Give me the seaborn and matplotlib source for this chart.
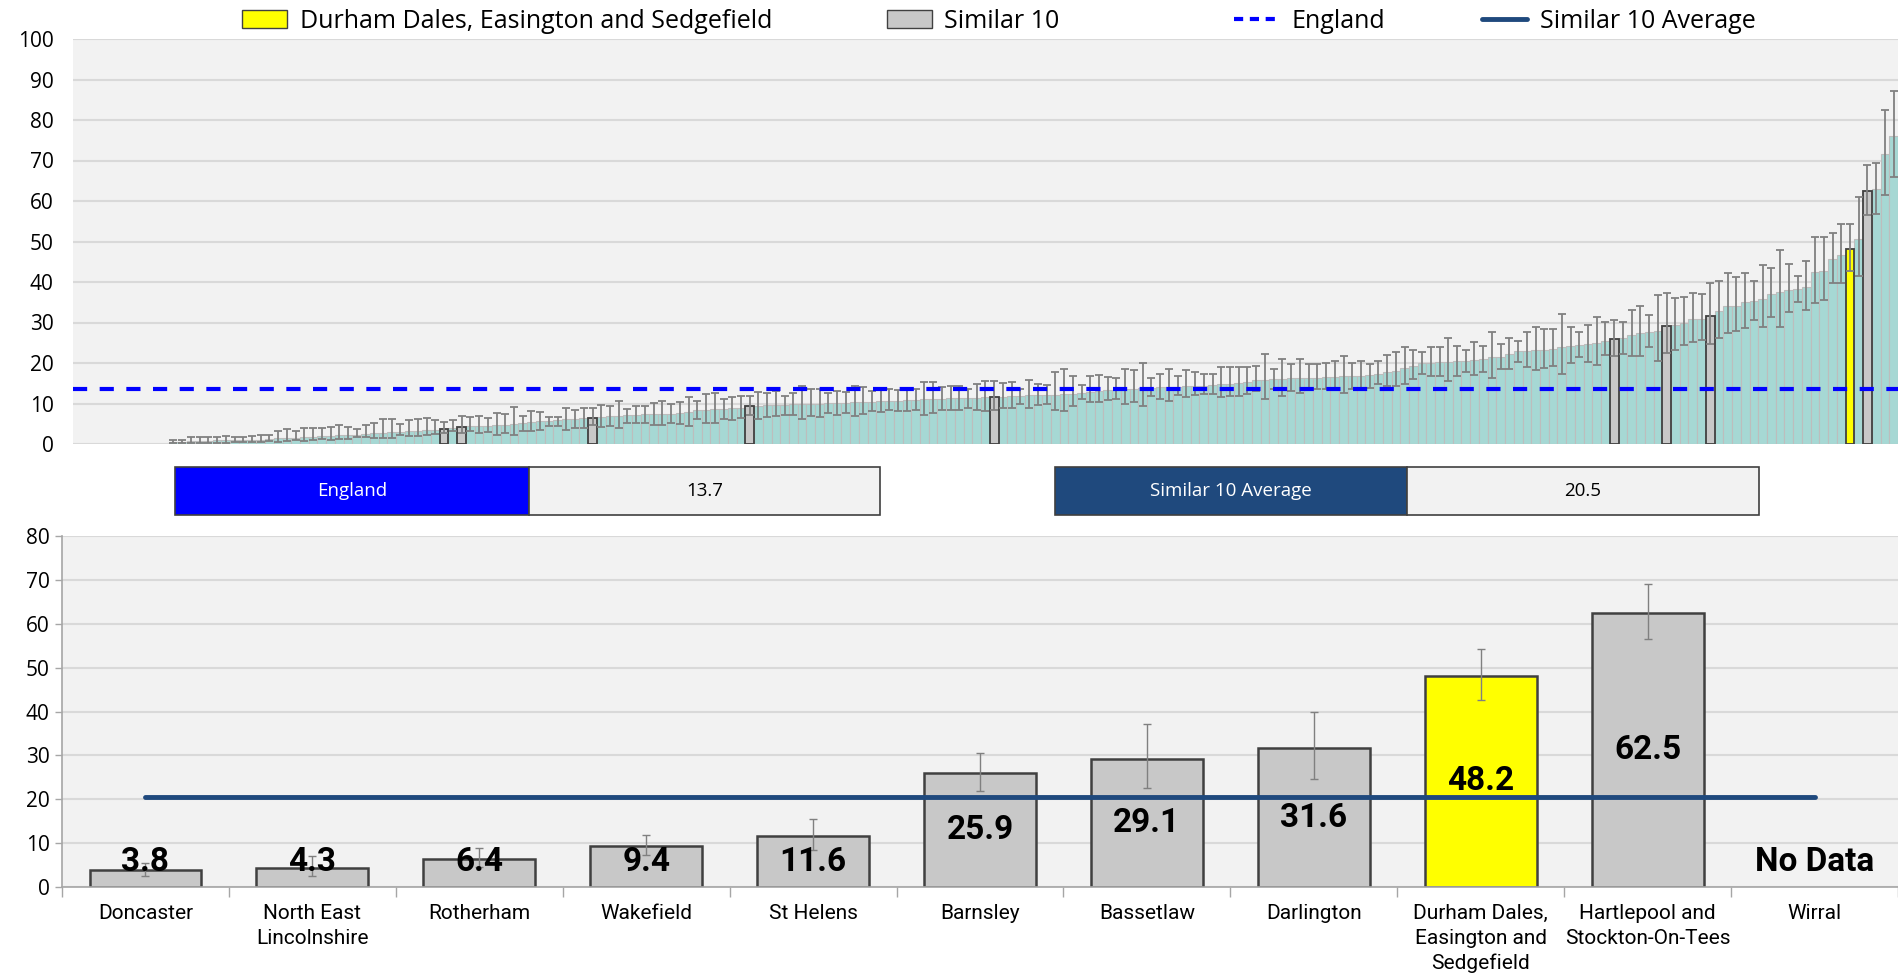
import numpy as np
import pandas as pd
import seaborn as sns
import matplotlib.pyplot as plt
from matplotlib.patches import Patch, Rectangle
from matplotlib.lines import Line2D

# national CCG rates, sorted (CCGs with no data come first)
no_data_ccgs = 11
ccg_rates = [
    0.5, 0.6, 0.7, 0.8, 0.8, 0.9, 0.9, 1.0, 1.0, 1.1, 1.1, 1.2,
    1.4, 1.5, 1.6, 1.7, 1.8, 1.9, 2.0, 2.1, 2.2, 2.3, 2.5, 2.6, 2.8, 2.9, 3.0, 3.1, 3.2, 3.4, 3.5,
    3.8, 4.0, 4.3, 4.4, 4.4, 4.5, 4.6, 4.7, 5.0, 5.2, 5.4, 5.6, 5.8, 6.0, 6.1, 6.2, 6.3, 6.4,
    6.6, 6.8, 7.0, 7.1, 7.2, 7.3, 7.3, 7.4, 7.5, 7.6, 8.0, 8.3, 8.5, 8.6, 8.7, 8.8, 9.0, 9.4,
    9.5, 9.6, 9.7,
    9.7, 9.8, 9.8, 9.9, 10.0, 10.1, 10.2, 10.2, 10.3, 10.4, 10.4, 10.5, 10.6, 10.7, 10.8, 10.9,
    11.0, 11.1, 11.2, 11.3, 11.3, 11.4, 11.4, 11.5, 11.6, 11.7, 11.8, 11.9, 12.0, 12.0, 12.1,
    12.2, 12.3, 12.4, 12.6,
    12.9, 13.1, 13.3, 13.4, 13.5, 13.6, 13.8, 13.9, 14.0, 14.0, 14.1, 14.2, 14.3, 14.4, 14.5,
    14.8, 14.9, 15.0, 15.2, 15.7, 15.8, 16.0, 16.1, 16.2, 16.3, 16.4, 16.4, 16.5, 16.6, 16.7,
    16.8, 16.9, 17.0, 17.3, 17.8, 18.1,
    18.7, 19.3, 19.9, 20.1, 20.2, 20.3, 20.4, 20.6, 20.8, 21.0, 21.4, 21.6, 22.1, 22.9, 23.0,
    23.1, 23.2, 23.5, 23.9, 24.2, 24.5, 24.7, 25.0, 25.5, 25.9, 26.1, 26.9, 27.3, 27.7, 27.9,
    29.1, 29.4, 30.0, 30.8, 30.9, 31.6, 32.8, 34.0, 34.1, 35.1, 35.3, 35.9, 37.1, 37.5, 38.1,
    38.2, 38.8, 42.5, 42.7, 45.6, 46.7, 48.2, 50.5, 62.5, 62.9, 71.5, 76.0,
]
ccg_lower = [
    0.2, 0.2, 0.2, 0.2, 0.2, 0.2, 0.3, 0.4, 0.4, 0.5, 0.5, 0.7,
    0.6, 0.7, 0.9, 0.8, 1.0, 1.2, 1.1, 1.2, 1.2, 1.7, 1.7, 1.6, 1.6, 1.6, 2.1, 2.0, 2.0, 2.1, 2.4,
    2.6, 3.2, 2.6, 3.1, 2.6, 3.0, 2.2, 2.6, 2.2, 3.2, 3.1, 3.4, 4.5, 4.5, 3.4, 3.9, 3.9, 4.6,
    4.2, 4.5, 4.0, 5.2, 5.2, 5.2, 4.8, 4.8, 5.2, 5.0, 4.5, 6.1, 5.2, 5.2, 6.1, 5.9, 6.3, 7.2,
    6.1, 6.7, 6.9,
    7.1, 7.1, 6.1, 6.8, 6.6, 7.7, 7.1, 7.6, 7.0, 7.4, 8.2, 8.0, 8.3, 8.2, 8.2, 8.4,
    7.2, 7.6, 8.5, 8.5, 8.5, 9.0, 8.3, 8.2, 8.4, 8.8, 8.8, 10.0, 8.8, 9.7, 9.8,
    8.3, 8.1, 9.4, 11.0,
    10.3, 10.3, 10.9, 11.1, 10.0, 10.3, 9.4, 11.9, 11.2, 10.6, 12.0, 11.5, 12.0, 12.4, 12.4,
    11.6, 11.8, 11.9, 12.3, 13.1, 11.1, 13.7, 11.9, 13.1, 12.6, 13.5, 13.5, 13.5, 13.3, 12.5,
    13.5, 13.6, 13.9, 14.8, 14.4, 14.4,
    14.8, 16.0, 17.3, 16.9, 16.9, 15.5, 16.9, 17.9, 17.1, 17.9, 16.3, 18.5, 18.5, 20.3, 18.9,
    18.3, 18.8, 19.3, 17.4, 19.9, 21.6, 20.3, 19.6, 22.0, 21.8, 22.2, 21.7, 21.7, 24.0, 20.6,
    22.5, 23.3, 24.4, 25.3, 25.7, 24.7, 26.1, 27.3, 27.9, 28.6, 30.6, 28.9, 31.4, 28.9, 32.6,
    35.1, 33.0, 34.7, 35.6, 39.7, 39.7, 42.7, 41.5, 56.5, 56.7, 61.5, 66.0,
]
ccg_upper = [
    0.9, 1.1, 1.7, 1.8, 1.8, 1.8, 2.0, 1.7, 1.7, 1.9, 2.1, 2.3,
    3.2, 3.6, 3.2, 3.9, 4.0, 4.0, 4.2, 4.6, 4.3, 3.6, 4.6, 5.1, 6.1, 6.1, 4.9, 6.0, 6.1, 6.3, 5.9,
    5.5, 5.9, 7.0, 6.7, 6.9, 6.5, 7.7, 7.3, 9.2, 7.0, 8.2, 8.0, 6.7, 6.7, 9.0, 8.4, 9.0, 8.8,
    9.7, 9.3, 10.7, 8.7, 9.5, 9.4, 10.2, 10.5, 9.8, 10.4, 11.7, 10.7, 12.3, 12.5, 11.1, 11.6, 11.8, 11.9,
    12.9, 12.5, 13.0,
    11.9, 12.7, 14.2, 13.7, 13.5, 12.5, 13.1, 12.9, 14.2, 14.1, 13.1, 13.3, 13.5, 13.4, 13.5, 13.7,
    15.2, 15.2, 14.1, 14.2, 14.2, 13.5, 14.8, 15.6, 15.6, 15.0, 15.4, 13.7, 15.9, 14.8, 14.5,
    17.7, 18.5, 16.8, 14.6,
    16.9, 17.1, 16.6, 16.4, 18.4, 18.2, 19.9, 16.3, 17.4, 18.5, 16.7, 18.3, 17.9, 17.3, 17.3,
    19.1, 19.0, 19.0, 19.0, 19.3, 22.1, 18.5, 21.0, 19.8, 20.9, 19.8, 19.8, 20.0, 20.6, 21.7,
    20.0, 20.5, 19.8, 20.5, 21.9, 22.7,
    23.9, 23.1, 22.6, 23.9, 23.9, 26.2, 24.3, 23.1, 25.1, 24.1, 27.6, 24.7, 26.1, 25.5, 27.6,
    29.0, 28.4, 28.4, 32.1, 29.0, 27.6, 29.4, 31.4, 30.1, 30.5, 30.1, 33.1, 34.0, 31.9, 36.9,
    37.2, 36.1, 36.3, 37.2, 37.0, 39.8, 40.3, 42.1, 41.2, 42.2, 40.3, 44.1, 43.5, 47.9, 44.4,
    41.6, 45.1, 51.1, 51.0, 52.2, 54.2, 54.3, 61.0, 69.0, 69.3, 82.5, 87.2,
]

# similar 10 CCGs
area_name = "Durham Dales, Easington and Sedgefield"
similar_names = ["Doncaster", "North East\nLincolnshire", "Rotherham", "Wakefield", "St Helens",
                 "Barnsley", "Bassetlaw", "Darlington", "Durham Dales,\nEasington and\nSedgefield",
                 "Hartlepool and\nStockton-On-Tees", "Wirral"]
similar_rates = [3.8, 4.3, 6.4, 9.4, 11.6, 25.9, 29.1, 31.6, 48.2, 62.5, np.nan]
similar_lower = [2.6, 2.6, 4.6, 7.2, 8.4, 21.8, 22.5, 24.7, 42.7, 56.5, np.nan]
similar_upper = [5.5, 7.0, 8.8, 11.9, 15.6, 30.5, 37.2, 39.8, 54.3, 69.0, np.nan]
england_value = 13.7
similar_avg = 20.5

teal = "#A6D8D4"
grey = "#C8C8C8"
yellow = "#FFFF00"
navy = "#1F497D"
blue = "#0000FF"
bg = "#F2F2F2"
grid_c = "#D9D9D9"

sns.set_theme(style="white")
plt.rcParams['font.family'] = ['Open Sans', 'DejaVu Sans']
plt.rcParams['text.color'] = 'black'
plt.rcParams['xtick.color'] = 'black'
plt.rcParams['ytick.color'] = 'black'
label_font = ['Roboto', 'DejaVu Sans']

fig = plt.figure(figsize=(18.98, 9.74), dpi=100)
W, H = 1898.0, 974.0

# ---------- top chart: all CCGs ----------
ax1 = fig.add_axes([73 / W, 1 - 444 / H, 1 - 73 / W, 405 / H])
n_slots = no_data_ccgs + len(ccg_rates)
slots = [str(i) for i in range(n_slots)]
rates_all = np.array([np.nan] * no_data_ccgs + ccg_rates)
top_df = pd.DataFrame({"slot": slots, "rate": rates_all})
sns.barplot(data=top_df, x="slot", y="rate", order=slots, color=teal, saturation=1,
            width=1.0, edgecolor="#BDBDBD", linewidth=0.8, errorbar=None, ax=ax1)

# highlight the similar CCGs at their national rank
hl_slots, hl_rates, hl_cols = [], [], []
for nm, v in zip(similar_names, similar_rates):
    if np.isnan(v):
        continue
    k = no_data_ccgs + int(np.argmin(np.abs(np.array(ccg_rates) - v)))
    hl_slots.append(str(k))
    hl_rates.append(v)
    hl_cols.append(yellow if nm.startswith("Durham") else grey)
hl_df = pd.DataFrame({"slot": hl_slots, "rate": hl_rates})
sns.barplot(data=hl_df, x="slot", y="rate", order=slots, hue="slot",
            palette=dict(zip(hl_slots, hl_cols)), saturation=1, legend=False,
            width=1.0, edgecolor="#404040", linewidth=1.3, errorbar=None, ax=ax1)

pos = np.arange(no_data_ccgs, n_slots)
r = np.array(ccg_rates)
ax1.errorbar(pos, r, yerr=[r - np.array(ccg_lower), np.array(ccg_upper) - r], fmt="none",
             ecolor="#808080", elinewidth=1.3, capsize=3, capthick=1.3, zorder=4)
ax1.axhline(england_value, color=blue, lw=3, ls=(0, (3.4, 3.0)), zorder=5)

ax1.set_facecolor(bg)
ax1.set_ylim(0, 100)
ax1.set_xlim(-0.5, n_slots - 0.5)
ax1.set_yticks(np.arange(0, 101, 10))
ax1.yaxis.grid(True, color=grid_c, lw=1.5)
ax1.set_axisbelow(True)
ax1.set_xticks([])
ax1.set_xlabel("")
ax1.set_ylabel("")
ax1.tick_params(axis="y", labelsize=15, length=0, pad=14)
for s in ax1.spines.values():
    s.set_visible(False)

# ---------- middle value boxes ----------
def value_box(x0, x1, x2, label, value, colour):
    y0, hgt = 1 - 515 / H, 48 / H
    fig.add_artist(Rectangle((x0 / W, y0), (x1 - x0) / W, hgt, transform=fig.transFigure,
                             facecolor=colour, edgecolor="#404040", lw=1.2))
    fig.add_artist(Rectangle((x1 / W, y0), (x2 - x1) / W, hgt, transform=fig.transFigure,
                             facecolor=bg, edgecolor="#404040", lw=1.2))
    fig.text((x0 + x1) / 2 / W, y0 + hgt / 2, label, color="white", fontsize=13.5,
             ha="center", va="center")
    fig.text((x1 + x2) / 2 / W, y0 + hgt / 2, value, color="black", fontsize=13.5,
             ha="center", va="center")

value_box(175, 529, 880, "England", f"{england_value}", blue)
value_box(1055, 1407, 1759, "Similar 10 Average", f"{similar_avg}", navy)

# ---------- bottom chart: similar 10 ----------
ax2 = fig.add_axes([62 / W, 1 - 887 / H, 1 - 62 / W, 351 / H])
bot_df = pd.DataFrame({"name": similar_names, "rate": similar_rates})
bar_cols = {nm: (yellow if nm.startswith("Durham") else grey) for nm in similar_names}
sns.barplot(data=bot_df, x="name", y="rate", order=similar_names, hue="name",
            palette=bar_cols, saturation=1, legend=False, width=0.67,
            edgecolor="#404040", linewidth=1.8, errorbar=None, ax=ax2)
sr = np.array(similar_rates)
ax2.errorbar(np.arange(len(sr)), sr, yerr=[sr - np.array(similar_lower), np.array(similar_upper) - sr],
             fmt="none", ecolor="#808080", elinewidth=1.0, capsize=3, capthick=1.0, zorder=4)
ax2.plot([0, len(similar_names) - 1], [similar_avg, similar_avg], color=navy, lw=3.5, zorder=5)
for i, v in enumerate(similar_rates):
    txt = "No Data" if np.isnan(v) else f"{v}"
    yy = 5.8 if np.isnan(v) else max(v / 2, 5.8)
    ax2.text(i, yy, txt, ha="center", va="center", fontsize=24, color="black",
             fontweight="bold", family=label_font, zorder=6)

ax2.set_facecolor(bg)
ax2.set_ylim(0, 80)
ax2.set_xlim(-0.5, len(similar_names) - 0.5)
ax2.set_yticks(np.arange(0, 81, 10))
ax2.yaxis.grid(True, color=grid_c, lw=1.5)
ax2.set_axisbelow(True)
ax2.set_xlabel("")
ax2.set_ylabel("")
ax2.set_xticks(np.arange(len(similar_names)))
ax2.set_xticklabels(similar_names, fontsize=15, family=label_font, linespacing=1.4, va="top")
ax2.set_xticks(np.arange(-0.5, len(similar_names)), minor=True)
ax2.tick_params(axis="x", which="major", length=0, pad=12)
ax2.tick_params(axis="x", which="minor", length=7, color="#A6A6A6", width=1, direction="out", bottom=True)
ax2.tick_params(axis="y", labelsize=15, length=5, color="#A6A6A6", width=1, direction="out", left=True, pad=4)
for s in ["top", "right"]:
    ax2.spines[s].set_visible(False)
for s in ["left", "bottom"]:
    ax2.spines[s].set_color("#A6A6A6")
    ax2.spines[s].set_linewidth(1.2)

# ---------- legend across the top ----------
leg_y = 1 - 21 / H
items = [
    (242, Patch(facecolor=yellow, edgecolor="#404040", lw=1), area_name),
    (887, Patch(facecolor=grey, edgecolor="#404040", lw=1), "Similar 10"),
    (1234, Line2D([], [], color=blue, lw=3, ls=(0, (2.2, 1.6))), "England"),
    (1482, Line2D([], [], color=navy, lw=3.5), "Similar 10 Average"),
]
for x0, h, lab in items:
    fig.legend([h], [lab], loc="center left", bbox_to_anchor=(x0 / W, leg_y), frameon=False,
               fontsize=18, handlelength=1.8, handleheight=0.7, handletextpad=0.5,
               borderpad=0, borderaxespad=0)

fig.savefig("out.png", dpi=100, facecolor="white")
